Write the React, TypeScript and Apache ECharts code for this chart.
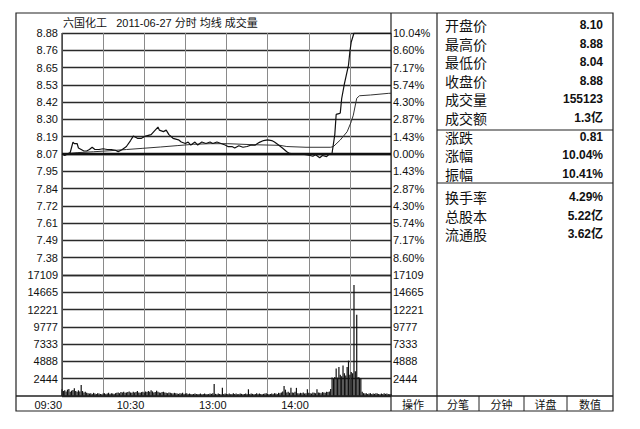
import React, { useEffect, useRef } from "react";
import * as echarts from "echarts";

const PREV_CLOSE = 8.07;
const LIMIT_PCT = 10.04;
const VOL_MAX = 17109;

const titleText = "六国化工   2011-06-27 分时 均线 成交量";

const priceTickLabels = ["", "7.38", "7.49", "7.61", "7.72", "7.84", "7.95", "8.07", "8.19", "8.30", "8.42", "8.53", "8.65", "8.76", "8.88"];
const pctTickLabels = ["", "8.60%", "7.17%", "5.74%", "4.30%", "2.87%", "1.43%", "0.00%", "1.43%", "2.87%", "4.30%", "5.74%", "7.17%", "8.60%", "10.04%"];
const volTickLabels = ["", "2444", "4888", "7333", "9777", "12221", "14665", "17109"];
const timeTickLabels = ["09:30", "", "10:30", "", "13:00", "", "14:00", "", ""];

// [minute index, price]
const pricePoints: [number, number][] = [
  [0, 8.07], [2, 8.06], [4, 8.07], [6, 8.08], [8, 8.15], [9, 8.14], [11, 8.14], [12, 8.11], [14, 8.1],
  [16, 8.09], [18, 8.09], [20, 8.1], [22, 8.115], [24, 8.1], [27, 8.1], [30, 8.105], [33, 8.1], [36, 8.1],
  [39, 8.095], [41, 8.085], [44, 8.1], [47, 8.12], [50, 8.16], [52, 8.19], [55, 8.175], [58, 8.175],
  [61, 8.19], [65, 8.2], [67, 8.22], [70, 8.25], [71, 8.23], [74, 8.22], [76, 8.23], [78, 8.2], [81, 8.175],
  [85, 8.165], [87, 8.15], [90, 8.14], [92, 8.15], [94, 8.13], [97, 8.15], [99, 8.13], [102, 8.15],
  [105, 8.14], [108, 8.15], [110, 8.14], [113, 8.15], [116, 8.14], [119, 8.13], [121, 8.12], [124, 8.12],
  [126, 8.11], [129, 8.125], [132, 8.115], [135, 8.12], [138, 8.13], [141, 8.13], [144, 8.148], [147, 8.16],
  [150, 8.165], [153, 8.16], [155, 8.15], [158, 8.13], [161, 8.108], [164, 8.085], [166, 8.074], [170, 8.07],
  [174, 8.07], [178, 8.065], [181, 8.06], [183, 8.055], [185, 8.065], [188, 8.045], [190, 8.06], [193, 8.052],
  [195, 8.07], [197, 8.075], [199, 8.2], [200, 8.335], [202, 8.34], [203, 8.345], [204, 8.44], [206, 8.54],
  [209, 8.665], [210, 8.755], [211, 8.82], [213, 8.88], [240, 8.88],
];

const avgPoints: [number, number][] = [
  [0, 8.07], [11, 8.079], [23, 8.085], [35, 8.092], [47, 8.1], [59, 8.108], [72, 8.117], [84, 8.126],
  [96, 8.135], [108, 8.139], [121, 8.139], [140, 8.132], [159, 8.128], [164, 8.12], [178, 8.115],
  [196, 8.115], [198, 8.12], [203, 8.164], [208, 8.219], [211, 8.286], [212.5, 8.33], [214, 8.398],
  [215, 8.443], [217, 8.46], [225, 8.465], [238, 8.476], [240, 8.477],
];

// minute volumes (手), 09:30-11:30 and 13:01-15:00
const volAM = [
  940, 700, 800, 650, 900, 1000, 600, 750, 850, 1100, 700, 600, 800, 650,
  1550,
  700, 500, 600, 450, 400,
  350, 400, 300, 450, 350, 300, 400, 350, 300, 250, 350, 400, 300, 350, 450, 300, 400, 350, 300, 400,
  450, 500, 400, 550, 500, 600, 450, 500, 550, 650, 500, 450, 600, 500, 550, 700, 500, 450, 550, 600,
  500, 650, 550, 700, 600, 800, 650, 500, 550, 750, 600, 500, 450, 550, 600, 500, 450, 400, 500, 450,
  400, 350, 450, 400, 350, 300, 400, 350, 450, 300, 350, 400, 300, 350, 300, 250, 300, 350, 300, 250,
  300, 350, 250, 300, 350, 300, 250, 300, 350, 300, 400,
  1700,
  300, 250, 350, 300, 250, 1150, 300, 350, 300,
];
const volPM = [
  300, 350, 250, 300, 400, 300, 350, 250, 300, 350, 300, 250, 300, 350, 300,
  950,
  300, 350, 300, 250, 300, 400, 300, 350, 300, 250, 300, 350, 400, 300, 250, 300, 350, 300, 400, 350, 300, 450, 400, 500,
  650, 1400, 900, 500, 600, 450, 1150, 500, 450, 600,
  1150,
  400, 350, 450, 400, 500, 350, 400, 950, 450, 400, 350, 500, 450, 400, 950, 500, 450, 400, 550, 500, 450, 600, 550, 650,
  1000,
  2600, 2500, 2700, 3900, 2600, 4100, 3000, 2800, 4300, 3200, 2900, 4100, 5000, 3000, 3400, 3200, 15700, 3500, 11500, 2700, 2600, 2500,
  600, 400, 350, 400, 300, 350, 400, 300, 350, 300, 400, 350, 300, 250, 350, 300, 400, 300, 350, 300, 250, 300,
];

const infoLabels1 = ["开盘价", "最高价", "最低价", "收盘价", "成交量", "成交额"];
const infoValues1 = ["8.10", "8.88", "8.04", "8.88", "155123", "1.3亿"];
const infoLabels2 = ["涨跌", "涨幅", "振幅"];
const infoValues2 = ["0.81", "10.04%", "10.41%"];
const infoLabels3 = ["换手率", "总股本", "流通股"];
const infoValues3 = ["4.29%", "5.22亿", "3.62亿"];
const buttonLabels = ["分笔", "分钟", "详盘", "数值"];
const opLabel = "操作";

const FONT = '"Liberation Sans", Arial, "Noto Sans CJK SC", sans-serif';
const CJK = '"Noto Sans CJK SC", "Liberation Sans", sans-serif';
const INK = "#111";

function toPct(p: number) {
  return (p / PREV_CLOSE - 1) * 100;
}

function txt(text: string, x: number, y: number, opts: any = {}) {
  const align = opts.align || "left";
  const fs = opts.fontSize || 11;
  return {
    type: "text",
    x,
    y,
    z: 10,
    silent: true,
    style: {
      text,
      fill: opts.fill || INK,
      fontSize: fs,
      lineHeight: opts.lineHeight || fs + 1,
      fontFamily: opts.fontFamily || FONT,
      fontWeight: opts.fontWeight || "normal",
      align,
      textAlign: align,
      verticalAlign: "middle",
      textVerticalAlign: "middle",
    },
  };
}

function ln(x1: number, y1: number, x2: number, y2: number, w = 1, c = "#222") {
  return {
    type: "line",
    z: 5,
    silent: true,
    shape: { x1, y1, x2, y2 },
    style: { stroke: c, lineWidth: w },
  };
}

export default function App() {
  const ref = useRef<HTMLDivElement>(null);

  useEffect(() => {
    if (!ref.current) return;
    const chart = echarts.init(ref.current, null, { renderer: "svg" });

    const pctStep = LIMIT_PCT / 7;
    const volStep = VOL_MAX / 7;

    const L = 62, R = 391, T = 33, MID = 275, B = 396;
    const FL = 16, FT = 13, FR = 613, FB = 411, PL = 437;

    const graphics: any[] = [];
    graphics.push({
      type: "rect", z: 5, silent: true,
      shape: { x: FL, y: FT, width: FR - FL, height: FB - FT },
      style: { fill: "none", stroke: "#222", lineWidth: 1.2 },
    });
    graphics.push(ln(R, FT, R, FB, 1.2));
    graphics.push(ln(PL, FT, PL, FB, 1.2));
    graphics.push(ln(FL, B, FR, B, 1.5));
    graphics.push(ln(L, T, L, B, 1.2));
    graphics.push(ln(PL, 130, FR, 130, 1.2));
    graphics.push(ln(PL, 183, FR, 183, 1.2));
    const btnEdges = [PL, 479, 524, 567, FR];
    for (let i = 1; i < btnEdges.length - 1; i++) graphics.push(ln(btnEdges[i], B, btnEdges[i], FB, 1));
    buttonLabels.forEach((b, i) => {
      graphics.push(txt(b, (btnEdges[i] + btnEdges[i + 1]) / 2, 404, { align: "center", fontSize: 11, fontFamily: CJK, lineHeight: 12 }));
    });
    graphics.push(txt(opLabel, (R + PL) / 2 - 1, 404, { align: "center", fontSize: 11, fontFamily: CJK, lineHeight: 12 }));
    graphics.push(txt(titleText, 63, 23, { fontSize: 11 }));

    const rowsBlock = (labels: string[], values: string[], y0: number, dy: number) => {
      labels.forEach((l, i) => {
        graphics.push(txt(l, 445, y0 + i * dy, { fontSize: 14, fontFamily: CJK, lineHeight: 15 }));
        graphics.push(txt(values[i], 603, y0 + i * dy, { align: "right", fontSize: 12, fontWeight: "bold", lineHeight: 13 }));
      });
    };
    rowsBlock(infoLabels1, infoValues1, 25, 18.5);
    rowsBlock(infoLabels2, infoValues2, 137, 18.4);
    rowsBlock(infoLabels3, infoValues3, 197, 18.5);

    const volData = [
      ...volAM.map((v, i) => [i, v]),
      ...volPM.map((v, i) => [volAM.length + i, v]),
    ];

    const hiddenAxis = { show: false };
    const vSplit = { show: true, lineStyle: { color: "#8a8a8a", width: 1 } };
    const hSplit = { show: true, lineStyle: { color: "#2a2a2a", width: 1.4 } };
    const labelStyle = { color: INK, fontSize: 11, fontFamily: FONT };

    const option: any = {
      animation: false,
      backgroundColor: "#fff",
      textStyle: { fontFamily: FONT },
      grid: [
        { left: L, top: T, width: R - L, height: MID - T },
        { left: L, top: MID, width: R - L, height: B - MID },
      ],
      xAxis: [
        {
          gridIndex: 0, type: "value", min: 0, max: 240, interval: 30,
          axisLine: hiddenAxis, axisTick: hiddenAxis, axisLabel: hiddenAxis, splitLine: vSplit,
        },
        {
          gridIndex: 1, type: "value", min: 0, max: 240, interval: 30,
          axisLine: hiddenAxis, axisTick: hiddenAxis, splitLine: vSplit,
          axisLabel: {
            ...labelStyle, align: "right", margin: 3,
            formatter: (v: number) => timeTickLabels[Math.round(v / 30)] || "",
          },
        },
      ],
      yAxis: [
        {
          gridIndex: 0, type: "value", min: -LIMIT_PCT, max: LIMIT_PCT, interval: pctStep, position: "left",
          axisLine: hiddenAxis, axisTick: hiddenAxis, splitLine: hSplit,
          axisLabel: {
            ...labelStyle, margin: 4,
            formatter: (v: number) => priceTickLabels[Math.round((v + LIMIT_PCT) / pctStep)] || "",
          },
        },
        {
          gridIndex: 0, type: "value", min: -LIMIT_PCT, max: LIMIT_PCT, interval: pctStep, position: "right",
          axisLine: hiddenAxis, axisTick: hiddenAxis, splitLine: { show: false },
          axisLabel: {
            ...labelStyle, margin: 2,
            formatter: (v: number) => pctTickLabels[Math.round((v + LIMIT_PCT) / pctStep)] || "",
          },
        },
        {
          gridIndex: 1, type: "value", min: 0, max: VOL_MAX, interval: volStep, position: "left",
          axisLine: hiddenAxis, axisTick: hiddenAxis, splitLine: hSplit,
          axisLabel: {
            ...labelStyle, margin: 4,
            formatter: (v: number) => volTickLabels[Math.round(v / volStep)] || "",
          },
        },
        {
          gridIndex: 1, type: "value", min: 0, max: VOL_MAX, interval: volStep, position: "right",
          axisLine: hiddenAxis, axisTick: hiddenAxis, splitLine: { show: false },
          axisLabel: {
            ...labelStyle, margin: 2,
            formatter: (v: number) => volTickLabels[Math.round(v / volStep)] || "",
          },
        },
      ],
      series: [
        {
          name: "均线", type: "line", xAxisIndex: 0, yAxisIndex: 0,
          data: avgPoints.map(([m, p]) => [m, toPct(p)]),
          showSymbol: false, symbol: "none",
          lineStyle: { color: "#333", width: 1 },
          z: 3,
        },
        {
          name: "分时", type: "line", xAxisIndex: 0, yAxisIndex: 0,
          data: pricePoints.map(([m, p]) => [m, toPct(p)]),
          showSymbol: false, symbol: "none",
          lineStyle: { color: "#111", width: 1.2 },
          z: 4,
          markLine: {
            silent: true, symbol: "none", label: { show: false },
            lineStyle: { color: "#111", width: 2.4, type: "solid" },
            data: [{ yAxis: 0 }],
          },
        },
        {
          name: "成交量", type: "bar", xAxisIndex: 1, yAxisIndex: 2,
          data: volData, barWidth: 1.2,
          itemStyle: { color: "#111" },
        },
      ],
      graphic: graphics,
    };

    chart.setOption(option);
    return () => chart.dispose();
  }, []);

  return (
    <div
      ref={ref}
      style={{ position: "absolute", left: 0, top: 0, width: 640, height: 429, background: "#fff" }}
    />
  );
}
